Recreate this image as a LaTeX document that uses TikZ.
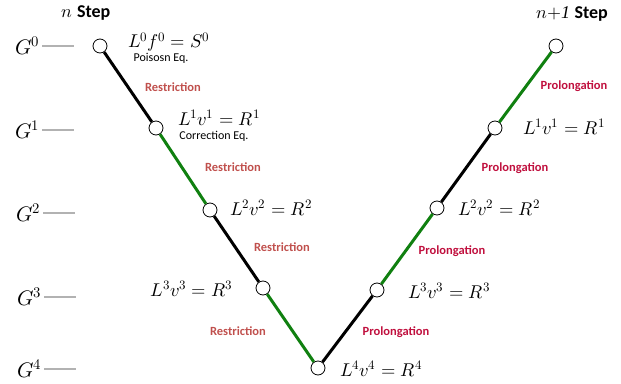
\documentclass[tikz,border=0pt]{standalone}
\usepackage{fontspec}
\setsansfont{Carlito}
\setmainfont{Liberation Serif}
\usepackage{unicode-math}
\setmathfont{Latin Modern Math}
\definecolor{rcol}{HTML}{C0504D}
\definecolor{pcol}{HTML}{C0103E}
\definecolor{gcol}{HTML}{108010}
\begin{document}
\begin{tikzpicture}[x=1pt,y=-1pt,
  pt/.style={circle,draw=black,fill=white,inner sep=0pt,minimum size=14pt,line width=0.8pt},
  seg/.style={line width=3pt},
  blk/.style={seg,black},
  grn/.style={seg,gcol},
  eq/.style={font=\fontsize{18.5}{20}\selectfont,inner sep=0pt},
  rlab/.style={font=\sffamily\bfseries\fontsize{12.5}{14}\selectfont,text=rcol},
  plab/.style={font=\sffamily\bfseries\fontsize{12.5}{14}\selectfont,text=pcol},
  sub/.style={font=\sffamily\fontsize{12}{14}\selectfont},
  glab/.style={font=\fontsize{21}{24}\selectfont,inner sep=0pt},
  gline/.style={gray!60,line width=2pt},
  hdr/.style={font=\fontsize{18}{20}\selectfont}]
\useasboundingbox (0,0) rectangle (621,383);
% nodes
\node[pt] (n0) at (100,46) {};
\node[pt] (n1) at (156,128) {};
\node[pt] (n2) at (210,210) {};
\node[pt] (n3) at (263,288) {};
\node[pt] (n4) at (318,368) {};
\node[pt] (r3) at (377,290) {};
\node[pt] (r2) at (437,208) {};
\node[pt] (r1) at (495,128) {};
\node[pt] (r0) at (556,46) {};
% segments
\draw[blk] (n0) -- (n1);
\draw[grn] (n1) -- (n2);
\draw[blk] (n2) -- (n3);
\draw[grn] (n3) -- (n4);
\draw[blk] (n4) -- (r3);
\draw[grn] (r3) -- (r2);
\draw[blk] (r2) -- (r1);
\draw[grn] (r1) -- (r0);
% headers
\node[hdr] (h1) at (86,13) {$n$ \sffamily\bfseries Step};
\node[hdr] (h2) at (572,14) {$n{+}\mathit{1}$ \sffamily\bfseries Step};
% G labels
\foreach \i/\y/\x in {0/46/40,1/130/40,2/213/41,3/297/42,4/369/42}{
  \node[glab,anchor=east] (g\i) at (\x,\y) {$G^{\i}$};
  \coordinate (gs\i) at (\x+2,\y);
  \coordinate (ge\i) at (\x+34,\y);
  \draw[gline] (gs\i) -- (ge\i);
}
% equations
\node[eq,anchor=west] (e0) at (128,42) {$L^0 f^0 = S^0$};
\node[sub] (p0) at (161,58) {Poisosn Eq.};
\node[eq,anchor=west] (e1) at (178,118) {$L^1 v^1 = R^1$};
\node[sub] (c1) at (214,136) {Correction Eq.};
\node[eq,anchor=west] (e2) at (230,208) {$L^2 v^2 = R^2$};
\node[eq,anchor=east] (e3) at (233,289) {$L^3 v^3 = R^3$};
\node[eq,anchor=west] (e4) at (340,369) {$L^4 v^4 = R^4$};
\node[eq,anchor=west] (f3) at (408,291) {$L^3 v^3 = R^3$};
\node[eq,anchor=west] (f2) at (458,208) {$L^2 v^2 = R^2$};
\node[eq,anchor=west] (f1) at (523,127) {$L^1 v^1 = R^1$};
% labels
\node[rlab] (rl1) at (173,87) {Restriction};
\node[rlab] (rl2) at (233,167) {Restriction};
\node[rlab] (rl3) at (282,247) {Restriction};
\node[rlab] (rl4) at (238,331) {Restriction};
\node[plab] (pl1) at (574,86) {Prolongation};
\node[plab] (pl2) at (515,168) {Prolongation};
\node[plab] (pl3) at (452,251) {Prolongation};
\node[plab] (pl4) at (396,332) {Prolongation};
\end{tikzpicture}
\end{document}
